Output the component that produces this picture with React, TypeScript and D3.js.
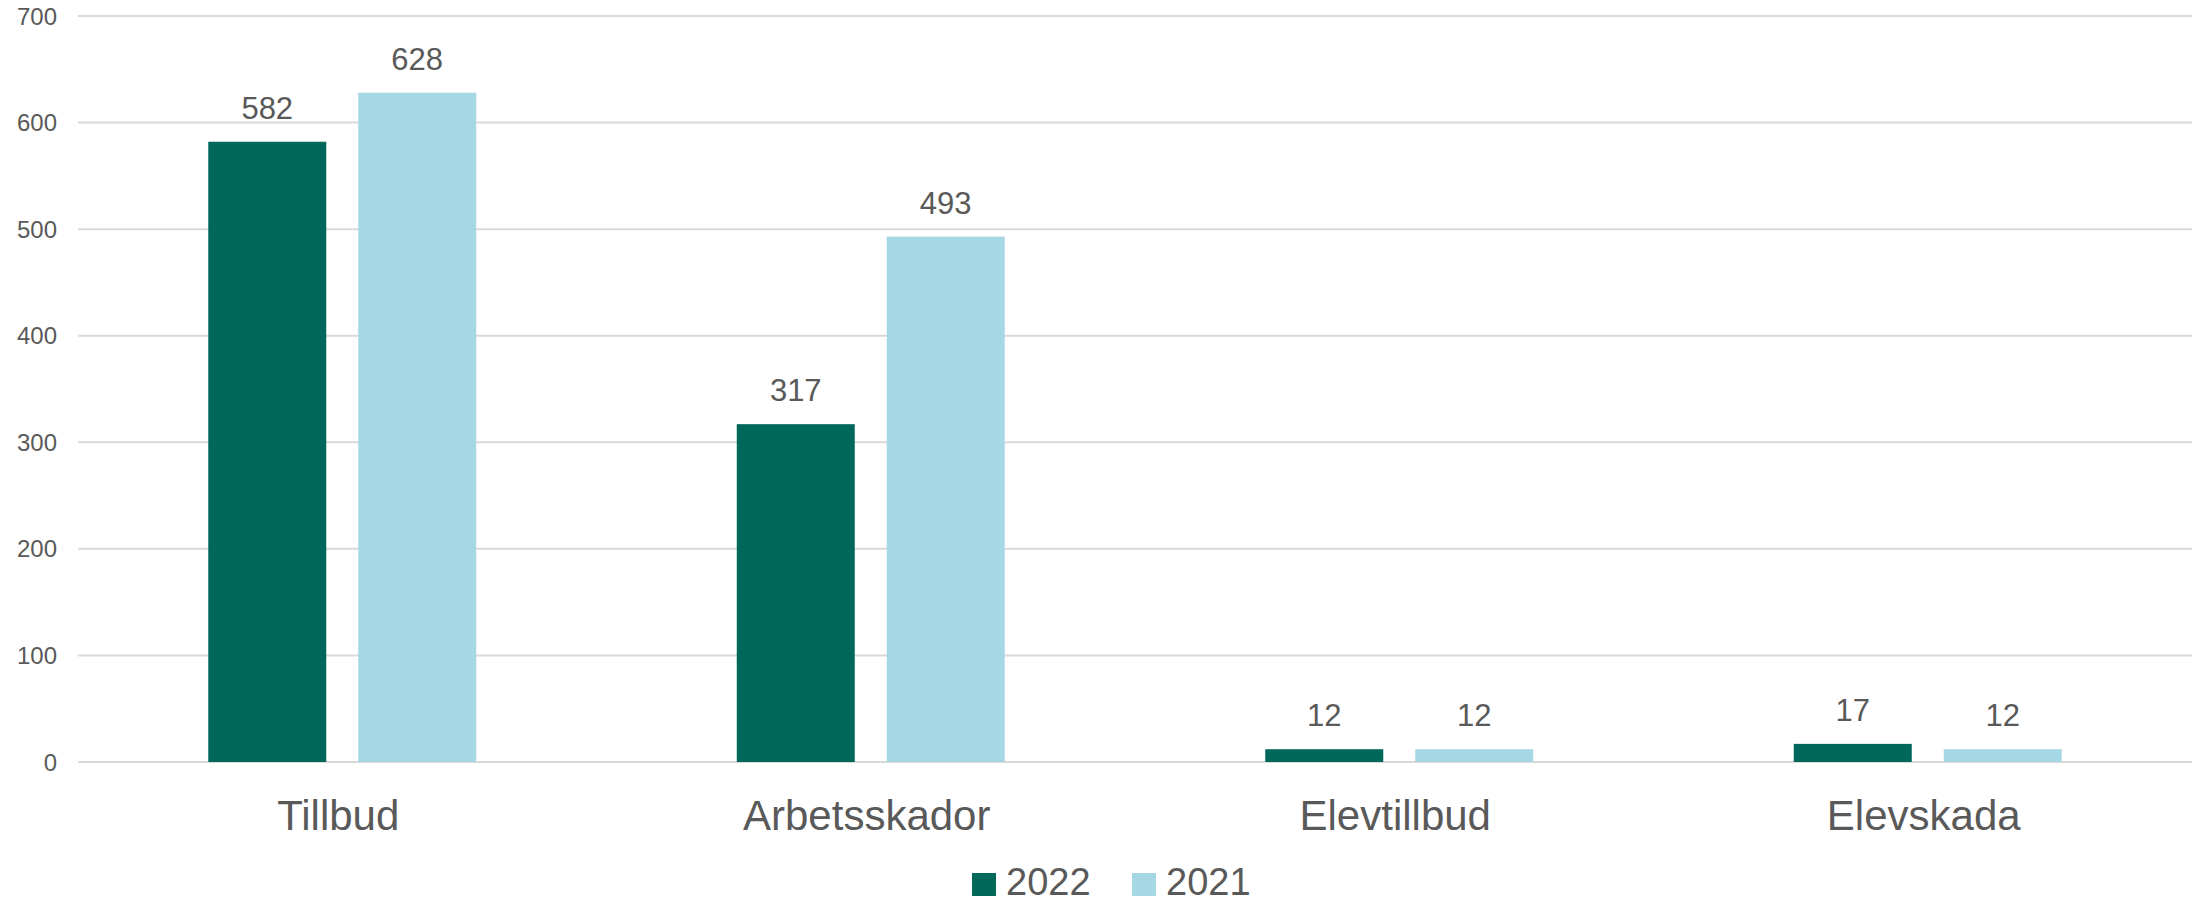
import React from "react";
import * as d3 from "d3";

const categories = ["Tillbud", "Arbetsskador", "Elevtillbud", "Elevskada"];
const seriesNames = ["2022", "2021"];
const values2022 = [582, 317, 12, 17];
const values2021 = [628, 493, 12, 12];
const yTicks = [0, 100, 200, 300, 400, 500, 600, 700];
const colors = ["#00685A", "#A5D7E4"];

const W = 2200;
const H = 904;
const FONT = "'Liberation Sans', Arial, sans-serif";
const TEXT = "#595959";

export default function App() {
  const series = [values2022, values2021];
  const x0 = d3.scaleBand<string>().domain(categories).range([78, 2192]).paddingInner(0).paddingOuter(0);
  const groupW = x0.bandwidth() * 0.507;
  const x1 = d3
    .scaleBand<string>()
    .domain(seriesNames)
    .range([-groupW / 2, groupW / 2])
    .paddingInner(0.2133)
    .paddingOuter(0);
  const y = d3.scaleLinear().domain([0, 700]).range([762, 16]);

  return (
    <svg
      width={W}
      height={H}
      style={{ position: "absolute", left: 0, top: 0, display: "block", background: "#fff" }}
      fontFamily={FONT}
    >
      <rect x={0} y={0} width={W} height={H} fill="#fff" />
      {yTicks.map((t) => (
        <g key={t}>
          <line x1={78} x2={2192} y1={y(t)} y2={y(t)} stroke="#D9D9D9" strokeWidth={2} />
          <text x={57} y={y(t)} dy="0.36em" textAnchor="end" fontSize={24} fill={TEXT}>
            {t}
          </text>
        </g>
      ))}
      {categories.map((c, i) => {
        const cx = (x0(c) as number) + x0.bandwidth() / 2;
        return (
          <g key={c}>
            {seriesNames.map((s, j) => {
              const v = series[j][i];
              const bx = cx + (x1(s) as number);
              const bw = x1.bandwidth();
              return (
                <g key={s}>
                  <rect x={bx} y={y(v)} width={bw} height={y(0) - y(v)} fill={colors[j]} />
                  <text x={bx + bw / 2} y={y(v) - 23} textAnchor="middle" fontSize={31} fill={TEXT}>
                    {v}
                  </text>
                </g>
              );
            })}
            <text x={cx - 4} y={830} textAnchor="middle" fontSize={42} fill={TEXT}>
              {c}
            </text>
          </g>
        );
      })}
      {seriesNames.map((s, j) => {
        const lx = j === 0 ? 972 : 1132;
        return (
          <g key={s}>
            <rect x={lx} y={873} width={24} height={23} fill={colors[j]} />
            <text x={lx + 34} y={895} fontSize={38} fill={TEXT}>
              {s}
            </text>
          </g>
        );
      })}
    </svg>
  );
}
